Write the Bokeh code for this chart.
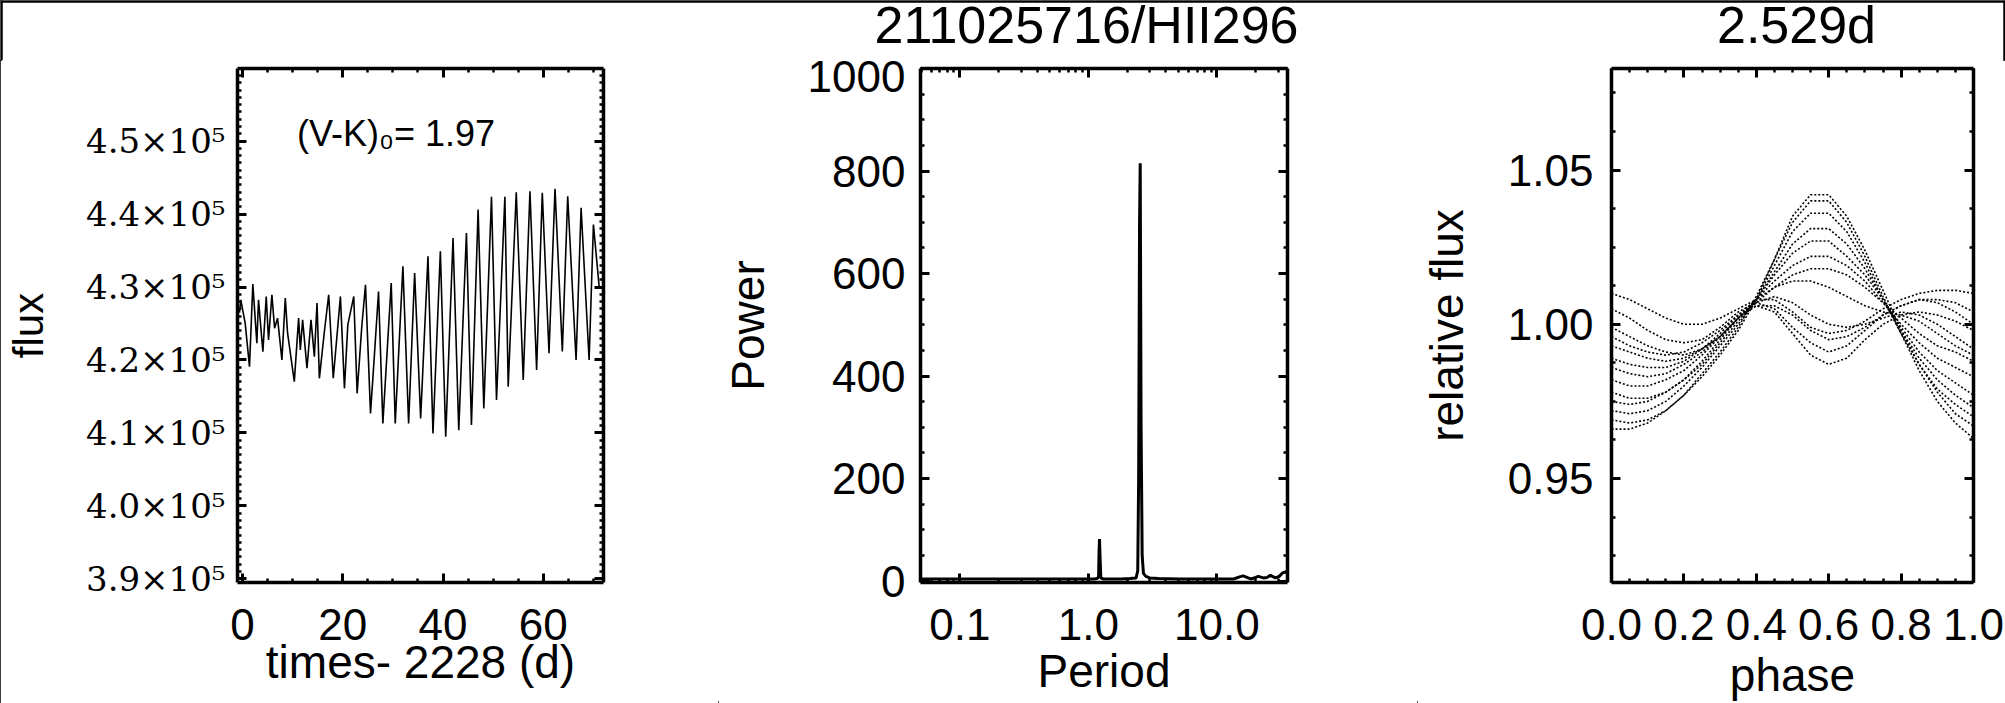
from bokeh.plotting import figure
from bokeh.models import (Label, Span, LinearAxis, LogAxis, SingleIntervalTicker, FixedTicker,
                          PrintfTickFormatter, CustomJSTickFormatter, Range1d)
from bokeh.layouts import row, column
from bokeh.embed import file_html
from bokeh.resources import INLINE

SANS = "Liberation Sans"
SERIF = "DejaVu Serif"

# ---------------- data ----------------
# Panel 1: light curve, extrema read per cycle
lc_time = [-0.6, -0.34, 0.53, 1.39, 2.06, 2.86, 3.19, 4.06, 4.73, 5.19, 5.86, 6.39, 6.99, 7.86,
           8.53, 8.99, 10.33, 11.19, 11.53, 11.99, 12.86, 13.66, 14.33, 14.86, 15.33, 16.33,
           17.19, 18.1, 19.53, 20.33, 21.0, 22.19, 22.86, 23.79, 24.53, 25.53, 26.33, 27.13,
           27.99, 29.66, 30.46, 31.99, 33.13, 34.33, 35.53, 36.99, 37.99, 39.46, 40.53, 41.99,
           43.13, 44.66, 45.66, 46.99, 48.13, 49.66, 50.66, 52.33, 52.99, 54.6, 55.99, 57.33,
           58.66, 59.79, 61.13, 62.33, 63.79, 64.86, 66.53, 67.53, 69.13, 69.99, 71.13]
lc_flux = [426500, 428250, 425044, 419090, 430403, 422296, 428250, 421150, 428708, 422754,
           428937, 424357, 425730, 420006, 428479, 423670, 417029, 425730, 421380, 425500,
           418860, 425500, 420464, 427792, 417487, 423900, 428937, 417500, 428708, 416113,
           424815, 428708, 415426, 424586, 430311, 412678, 420922, 429395, 411304, 430540,
           411304, 432830, 411304, 431914, 411990, 434204, 409930, 434891, 409472, 436723,
           410388, 437410, 411075, 440616, 413365, 442356, 414510, 442356, 416342, 443000,
           417258, 443135, 418632, 442906, 420922, 443456, 421151, 442448, 420006, 440845,
           420006, 438555, 430082]

# Panel 2: periodogram
period = [0.0494, 0.07, 0.1, 0.15, 0.2, 0.3, 0.5, 0.7, 0.9, 1.1, 1.17, 1.2, 1.21, 1.22, 1.235,
          1.25, 1.3, 1.5, 1.8, 2.1, 2.35, 2.42, 2.46, 2.50, 2.53, 2.57, 2.62, 2.68, 2.8, 3.0,
          3.5, 5.0, 8.0, 12.0, 13.5, 15.0, 16.0, 17.5, 18.5, 20.0, 21.0, 23.0, 24.5, 26.0,
          28.5, 30.5, 32.5, 34.5, 35.4]
power = [4, 4, 4, 4, 4, 4, 4, 4, 4, 4, 5, 8, 55, 82, 40, 6, 4, 4, 4, 5, 6, 20, 200, 700, 815,
         300, 50, 15, 9, 6, 5, 4, 4, 4, 4, 8, 10, 6, 4, 7, 9, 6, 7, 11, 6, 9, 16, 18, 14]

# Panel 3: phase-folded relative flux, one list per traced cycle
phase_grid = [0.00, 0.05, 0.10, 0.15, 0.20, 0.25, 0.30, 0.35, 0.40, 0.45, 0.50,
              0.55, 0.60, 0.65, 0.70, 0.75, 0.80, 0.85, 0.90, 0.95, 1.00]
rel_a1 = [0.969, 0.968, 0.969, 0.972, 0.977, 0.983, 0.990, 0.998, 1.008, 1.021, 1.035,
          1.042, 1.042, 1.035, 1.024, 1.011, 0.998, 0.987, 0.978, 0.971, 0.967]
rel_a2 = [0.966, 0.966, 0.968, 0.972, 0.977, 0.984, 0.991, 0.999, 1.009, 1.021, 1.033,
          1.040, 1.040, 1.033, 1.022, 1.009, 0.997, 0.985, 0.975, 0.968, 0.963]
rel_a3 = [0.972, 0.971, 0.972, 0.975, 0.980, 0.986, 0.993, 1.000, 1.008, 1.019, 1.030,
          1.036, 1.036, 1.030, 1.020, 1.008, 0.997, 0.987, 0.979, 0.974, 0.970]
rel_a4 = [0.975, 0.974, 0.975, 0.978, 0.982, 0.987, 0.994, 1.001, 1.008, 1.017, 1.026,
          1.031, 1.031, 1.026, 1.018, 1.008, 0.998, 0.989, 0.982, 0.977, 0.973]
rel_a5 = [0.978, 0.976, 0.976, 0.978, 0.982, 0.988, 0.995, 1.002, 1.008, 1.016, 1.023,
          1.027, 1.027, 1.022, 1.016, 1.008, 0.999, 0.991, 0.985, 0.981, 0.977]
rel_a6 = [0.982, 0.980, 0.980, 0.982, 0.985, 0.990, 0.996, 1.002, 1.008, 1.014, 1.019,
          1.022, 1.022, 1.019, 1.014, 1.007, 1.000, 0.994, 0.989, 0.986, 0.983]
rel_a7 = [0.986, 0.984, 0.983, 0.984, 0.987, 0.991, 0.996, 1.002, 1.007, 1.012, 1.016,
          1.018, 1.018, 1.016, 1.012, 1.007, 1.002, 0.997, 0.993, 0.991, 0.988]
rel_b1 = [1.010, 1.008, 1.005, 1.002, 1.000, 1.000, 1.002, 1.005, 1.008, 1.008, 1.004,
          0.999, 0.997, 0.998, 1.001, 1.005, 1.008, 1.010, 1.011, 1.011, 1.010]
rel_b2 = [1.005, 1.002, 0.998, 0.995, 0.994, 0.995, 0.999, 1.004, 1.007, 1.005, 0.999,
          0.994, 0.991, 0.993, 0.998, 1.003, 1.006, 1.008, 1.008, 1.007, 1.004]
rel_b3 = [0.999, 0.996, 0.993, 0.991, 0.990, 0.992, 0.996, 1.002, 1.006, 1.004, 0.997,
          0.990, 0.987, 0.989, 0.995, 1.000, 1.003, 1.004, 1.003, 1.001, 0.998]
rel_b4 = [0.993, 0.991, 0.989, 0.988, 0.989, 0.992, 0.996, 1.002, 1.007, 1.009, 1.007,
          1.003, 1.000, 0.999, 1.000, 1.002, 1.004, 1.003, 1.000, 0.996, 0.992]
rel_b5 = [0.989, 0.987, 0.986, 0.986, 0.988, 0.992, 0.997, 1.003, 1.008, 1.012, 1.014,
          1.014, 1.012, 1.009, 1.006, 1.004, 1.003, 1.001, 0.997, 0.993, 0.990]
rel_b6 = [0.996, 0.993, 0.991, 0.990, 0.991, 0.994, 0.998, 1.003, 1.006, 1.006, 1.003,
          0.998, 0.995, 0.996, 0.999, 1.003, 1.006, 1.008, 1.007, 1.004, 1.000]
phase_curves = [rel_a1, rel_a2, rel_a3, rel_a4, rel_a5, rel_a6, rel_a7,
                rel_b1, rel_b2, rel_b3, rel_b4, rel_b5, rel_b6]

star_title = "211025716/HII296"
period_title = "2.529d"
color_note = "(V-K)\u2080= 1.97"

TICK_SIZE = "44px"
LABEL_SIZE = "46px"
TITLE_SIZE = "52px"
STRIP_H = 60


def style_axis(ax, labels, font=SANS, size=TICK_SIZE, standoff=10):
    ax.axis_line_width = 3.5
    ax.axis_line_color = "black"
    ax.major_tick_in = 9
    ax.major_tick_out = 0
    ax.minor_tick_in = 4
    ax.minor_tick_out = 0
    ax.major_tick_line_width = 3
    ax.minor_tick_line_width = 2.5
    ax.major_tick_line_color = "black"
    ax.minor_tick_line_color = "black"
    ax.major_label_text_font = font
    ax.axis_label_text_font = SANS
    ax.axis_label_text_font_style = "normal"
    ax.axis_label_text_color = "black"
    ax.axis_label_text_font_size = LABEL_SIZE
    if labels:
        ax.major_label_standoff = standoff
        ax.major_label_text_font_size = size
        ax.major_label_text_color = "black"
    else:
        ax.formatter = CustomJSTickFormatter(code="return '';")
        ax.major_label_text_font_size = "1px"
        ax.major_label_standoff = 0


def base_fig(width, left, right, x_range, y_range, x_axis_type="linear"):
    p = figure(width=width, height=703 - STRIP_H, x_range=x_range, y_range=y_range,
               x_axis_type=x_axis_type, min_border_left=left, min_border_right=right,
               min_border_top=8, min_border_bottom=121, output_backend="svg",
               toolbar_location=None, title=None)
    p.grid.visible = False
    p.outline_line_color = None
    p.background_fill_color = "white"
    p.border_fill_color = "white"
    return p


# ---------------- title strip ----------------
strip = figure(width=2005, height=STRIP_H, x_range=Range1d(0, 2005), y_range=Range1d(0, STRIP_H),
               min_border=0, x_axis_location=None, y_axis_location=None,
               output_backend="svg", toolbar_location=None, title=None)
strip.grid.visible = False
strip.outline_line_color = None
strip.background_fill_color = "white"
strip.border_fill_color = "white"
for cx, txt in ((1086, star_title), (1796, period_title)):
    strip.add_layout(Label(x=cx, y=36, text=txt, text_font=SANS, text_font_size=TITLE_SIZE,
                           text_align="center", text_baseline="alphabetic",
                           text_color="black"))
# page border continued through the strip (top, left, right edges)
strip.add_layout(Span(location=STRIP_H - 1, dimension="width", line_color="black", line_width=2.5))
strip.add_layout(Span(location=1, dimension="height", line_color="black", line_width=2.5))
strip.add_layout(Span(location=2004, dimension="height", line_color="black", line_width=2.5))

# ---------------- panel 1 ----------------
p1 = base_fig(718, 237, 115, Range1d(-1.0, 72.0), Range1d(389500, 459950))
xt1 = SingleIntervalTicker(interval=20, num_minor_ticks=4)
yt1 = SingleIntervalTicker(interval=10000, num_minor_ticks=10)
p1.xaxis.ticker = xt1
p1.yaxis.ticker = yt1
p1.yaxis.formatter = CustomJSTickFormatter(code="return (tick/1e5).toFixed(1) + '\u00d710\u2075';")
p1.add_layout(LinearAxis(ticker=xt1), "above")
p1.add_layout(LinearAxis(ticker=yt1), "right")
for ax in p1.below:
    style_axis(ax, True, standoff=26)
    ax.axis_label = "times- 2228 (d)"
    ax.axis_label_standoff = -7
for ax in p1.left:
    style_axis(ax, True, font=SERIF, size="34px", standoff=12)
    ax.axis_label = "flux"
    ax.axis_label_text_font_size = "42px"
    ax.axis_label_standoff = 31
for ax in p1.above + p1.right:
    style_axis(ax, False)
p1.line(lc_time, lc_flux, line_width=1.6, color="black")
p1.add_layout(Label(x=10.86, y=451050, text=color_note, text_font=SANS, text_font_size="36px",
                    text_align="left", text_baseline="alphabetic", text_color="black"))

# ---------------- panel 2 ----------------
p2 = base_fig(699, 202, 130, Range1d(0.0494, 35.4), Range1d(-2.9, 1000), x_axis_type="log")
minor_log = [0.05, 0.06, 0.07, 0.08, 0.09] + [k / 10 for k in range(2, 10)] + \
    [float(k) for k in range(2, 10)] + [20.0, 30.0]
xt2 = FixedTicker(ticks=[0.1, 1.0, 10.0], minor_ticks=minor_log)
yt2 = SingleIntervalTicker(interval=200, num_minor_ticks=4)
p2.xaxis.ticker = xt2
p2.xaxis.formatter = PrintfTickFormatter(format="%.1f")
p2.yaxis.ticker = yt2
p2.add_layout(LogAxis(ticker=xt2), "above")
p2.add_layout(LinearAxis(ticker=yt2), "right")
for ax in p2.below:
    style_axis(ax, True, standoff=26)
    ax.axis_label = "Period"
    ax.axis_label_standoff = 2
for ax in p2.left:
    style_axis(ax, True, standoff=15)
    ax.axis_label = "Power"
    ax.axis_label_standoff = 31
for ax in p2.above + p2.right:
    style_axis(ax, False)
p2.line(period, power, line_width=3, color="black")

# ---------------- panel 3 ----------------
p3 = base_fig(588, 188, 32, Range1d(0.0, 1.0), Range1d(0.9163, 1.0829))
xt3 = SingleIntervalTicker(interval=0.2, num_minor_ticks=4)
yt3 = SingleIntervalTicker(interval=0.05, num_minor_ticks=4)
p3.xaxis.ticker = xt3
p3.xaxis.formatter = PrintfTickFormatter(format="%.1f")
p3.yaxis.ticker = yt3
p3.yaxis.formatter = PrintfTickFormatter(format="%.2f")
p3.add_layout(LinearAxis(ticker=xt3), "above")
p3.add_layout(LinearAxis(ticker=yt3), "right")
for ax in p3.below:
    style_axis(ax, True, standoff=26)
    ax.axis_label = "phase"
    ax.axis_label_standoff = 6
for ax in p3.left:
    style_axis(ax, True, standoff=18)
    ax.axis_label = "relative flux"
    ax.axis_label_standoff = 32
for ax in p3.above + p3.right:
    style_axis(ax, False)
for curve in phase_curves:
    p3.line(phase_grid, curve, line_width=1.6, color="black", line_dash="2 2")

layout = column(strip, row(p1, p2, p3),
                styles={"outline": "2px solid black", "outline-offset": "-2px"})
open("out.html", "w").write(file_html(layout, INLINE))
